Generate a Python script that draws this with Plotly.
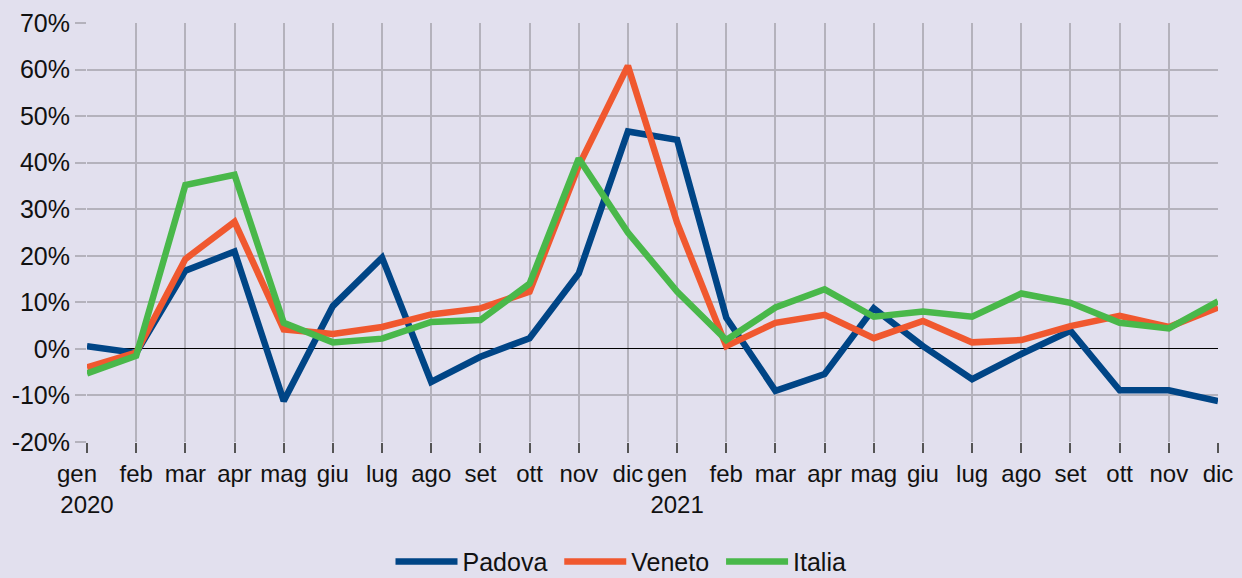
import plotly.graph_objects as go

months = ["gen", "feb", "mar", "apr", "mag", "giu", "lug", "ago", "set", "ott", "nov", "dic"]
categories = [f"{m} 2020" for m in months] + [f"{m} 2021" for m in months]
tick_labels = ["gen\u00a0\u00a0\u00a0<br>2020"] + months[1:] + ["gen\u00a0\u00a0\u00a0<br>2021"] + months[1:]

padova = [0.6, -0.9, 16.8, 20.9, -11.2, 9.2, 19.6, -7.1, -1.7, 2.3, 16.2, 46.7,
          44.9, 6.7, -9.0, -5.4, 8.7, 0.6, -6.5, -1.1, 3.9, -8.9, -8.9, -11.2]
veneto = [-4.0, -0.8, 19.3, 27.3, 4.2, 3.2, 4.7, 7.4, 8.7, 12.3, 39.3, 60.8,
          27.1, 0.6, 5.6, 7.3, 2.3, 6.0, 1.4, 1.9, 4.9, 7.1, 4.7, 8.9]
italia = [-5.3, -1.5, 35.2, 37.4, 5.6, 1.4, 2.2, 5.8, 6.2, 14.0, 40.9, 25.0,
          12.3, 1.9, 8.9, 12.8, 6.9, 8.0, 6.9, 11.9, 9.9, 5.6, 4.4, 10.2]

y_ticks = [-20, -10, 0, 10, 20, 30, 40, 50, 60, 70]
y_tick_labels = [f"{v}%" for v in y_ticks]

series = [("Padova", padova, "#004586", "Padova\u00a0"),
          ("Veneto", veneto, "#f0582f", "Veneto\u00a0"),
          ("Italia", italia, "#49b84a", "Italia")]

fig = go.Figure()
for name, vals, color, label in series:
    fig.add_trace(go.Scatter(x=categories, y=vals, mode="lines", name=label,
                             line=dict(color=color, width=6.5)))

grid = "#b4b2bc"
fig.update_layout(
    width=1242, height=578,
    margin=dict(l=87, r=24, t=23, b=136, autoexpand=False),
    paper_bgcolor="#e2e0ee", plot_bgcolor="#e2e0ee",
    font=dict(family="Liberation Sans, Arial, sans-serif", color="#111111"),
    showlegend=True,
    legend=dict(orientation="h", x=0.5, xanchor="center", xref="container",
                y=0.028, yanchor="middle", yref="container",
                font=dict(size=25), bgcolor="rgba(0,0,0,0)", itemwidth=62, tracegroupgap=0),
)
fig.update_xaxes(
    type="category", categoryorder="array", categoryarray=categories,
    tickmode="array", tickvals=categories, ticktext=tick_labels,
    range=[0, 23], showgrid=True, gridcolor=grid, gridwidth=1.5,
    ticks="outside", ticklen=10, tickcolor="#555555", tickwidth=1.5,
    tickfont=dict(size=24), showline=False, zeroline=False, tickangle=0,
    automargin=False,
)
fig.update_yaxes(
    range=[-20, 70], tickmode="array", tickvals=y_ticks, ticktext=y_tick_labels,
    showgrid=True, gridcolor=grid, gridwidth=1.5,
    ticks="outside", ticklen=11, tickcolor=grid, tickwidth=1.5,
    tickfont=dict(size=25), zeroline=True, zerolinecolor="#000000", zerolinewidth=1,
    showline=False, automargin=False,
)

fig.write_html("out.html", config={"displayModeBar": False},
               post_script="document.body.style.margin='0';document.body.style.overflow='hidden';")
